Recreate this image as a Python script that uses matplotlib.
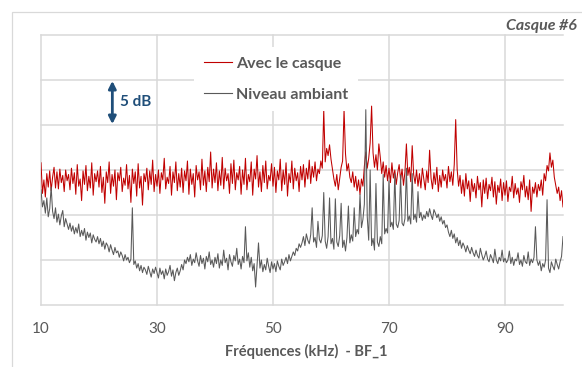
import numpy as np
import matplotlib
matplotlib.use("Agg")
import matplotlib.pyplot as plt
from matplotlib.lines import Line2D
from matplotlib.patches import Rectangle

# ---------------- data ----------------
freq_start = 10.0
freq_step = 0.25

avec_casque = [
    15.8, 12.4, 13.9, 12.0, 14.6, 13.1, 14.9, 12.7, 14.2, 15.3, 13.0, 14.8, 12.9, 15.1, 13.6, 14.4, 12.6, 15.0, 13.8, 14.5,
    12.8, 15.2, 13.5, 14.7, 12.3, 15.6, 13.2, 14.0, 11.6, 14.9, 13.4, 15.5, 12.7, 14.3, 13.0, 15.8, 12.2, 14.6, 13.7, 14.9,
    13.1, 15.4, 12.5, 14.2, 11.3, 14.8, 13.6, 15.9, 12.4, 14.5, 13.2, 15.0, 11.7, 14.7, 13.8, 15.3, 12.6, 14.1, 13.3, 15.6,
    12.9, 14.4, 11.4, 15.1, 13.5, 14.8, 12.1, 15.7, 13.0, 14.3, 11.1, 14.6, 13.7, 15.2, 12.8, 14.9, 13.4, 16.1, 12.6, 14.5,
    13.2, 15.0, 12.4, 14.7, 13.9, 16.3, 12.9, 14.2, 13.5, 15.4, 12.2, 14.8, 13.6, 15.9, 12.7, 14.6, 13.1, 15.2, 12.5, 14.9,
    13.8, 16.0, 12.3, 15.1, 13.4, 14.6, 12.0, 15.5, 13.9, 14.8, 12.8, 16.2, 13.3, 14.9, 12.6, 15.3, 13.7, 17.0, 13.0, 15.1,
    13.6, 15.8, 12.7, 14.9, 13.3, 16.4, 12.9, 15.2, 13.8, 14.6, 12.4, 15.7, 13.5, 16.1, 12.8, 14.7, 13.9, 15.4, 12.3, 15.0,
    13.4, 16.3, 12.8, 14.5, 13.7, 15.9, 12.2, 15.1, 14.0, 16.6, 13.1, 14.8, 12.6, 15.5, 13.6, 16.0, 12.9, 14.4, 13.8, 15.7,
    13.2, 15.3, 12.5, 14.9, 13.9, 16.2, 12.7, 15.0, 13.4, 15.8, 12.1, 14.6, 13.6, 16.0, 12.9, 15.2, 13.8, 14.7, 12.6, 15.4,
    13.9, 15.6, 13.1, 15.2, 14.0, 16.1, 13.5, 15.4, 14.2, 15.9, 13.8, 15.1, 14.6, 16.0, 15.2, 21.7, 15.9, 17.4, 16.6, 17.8,
    16.2, 15.1, 14.0, 13.2, 14.5, 12.8, 14.1, 15.3, 16.0, 21.7, 16.8, 14.9, 15.7, 14.2, 13.6, 14.8, 13.1, 14.3, 12.7, 13.9,
    12.3, 14.0, 13.2, 15.4, 17.0, 15.2, 16.3, 18.0, 22.1, 16.9, 15.3, 16.7, 15.0, 17.9, 16.4, 14.6, 15.9, 14.2, 15.5, 13.8,
    15.2, 13.6, 15.8, 14.1, 15.0, 13.4, 14.7, 15.6, 13.9, 15.1, 13.3, 14.8, 17.9, 14.4, 15.3, 13.7, 17.7, 14.5, 13.5, 15.0,
    13.2, 14.6, 13.0, 15.2, 14.0, 12.8, 14.9, 13.6, 17.2, 14.1, 12.9, 14.7, 13.4, 15.3, 12.6, 14.4, 13.1, 15.0, 13.8, 14.5,
    13.0, 15.4, 13.7, 14.8, 13.3, 15.6, 20.6, 15.1, 13.2, 14.4, 12.4, 13.9, 12.1, 14.6, 12.9, 13.8, 11.5, 14.0, 12.6, 13.5,
    11.9, 14.3, 12.8, 13.6, 10.9, 13.9, 12.4, 14.1, 11.8, 13.4, 12.7, 14.2, 12.0, 13.7, 11.2, 13.3, 12.5, 14.0, 11.6, 13.6,
    12.2, 13.8, 11.5, 13.1, 12.6, 14.3, 11.9, 13.5, 12.3, 13.0, 11.4, 13.7, 12.8, 14.4, 12.0, 13.2, 11.7, 13.9, 10.4, 13.1,
    12.4, 13.6, 12.0, 13.4, 12.7, 13.9, 12.2, 14.6, 13.8, 15.5, 14.9, 16.9, 15.3, 16.1, 14.2, 13.3, 12.4, 13.1, 11.6, 12.7,
    10.9,
]

niveau_ambiant = [
    12.8, 10.9, 11.6, 10.2, 11.9, 9.8, 10.7, 13.1, 10.4, 9.6, 10.8, 9.2, 10.1, 8.9, 9.9, 10.5, 8.7, 9.6, 9.0, 8.4,
    9.1, 8.2, 8.8, 7.9, 8.6, 8.0, 9.0, 7.6, 8.3, 7.7, 8.5, 7.2, 8.1, 7.5, 8.0, 6.9, 7.8, 7.3, 7.0, 7.6,
    6.8, 7.4, 6.5, 7.1, 6.2, 6.9, 6.6, 5.9, 6.7, 6.1, 5.6, 6.4, 5.8, 6.0, 5.3, 5.9, 5.5, 4.9, 5.6, 5.0,
    5.3, 4.7, 5.1, 10.8, 4.5, 4.9, 4.1, 4.6, 3.8, 4.4, 3.6, 4.2, 3.9, 3.4, 4.3, 3.7, 3.1, 4.0, 3.5, 4.2,
    3.6, 3.0, 4.1, 3.4, 3.8, 2.9, 4.0, 3.3, 3.7, 4.4, 3.2, 3.9, 2.7, 3.6, 4.1, 3.3, 3.8, 4.5, 3.9, 5.0,
    4.6, 5.3, 4.8, 5.6, 4.4, 5.1, 4.7, 5.8, 4.9, 4.3, 5.5, 4.6, 5.2, 4.0, 5.4, 4.8, 5.9, 4.5, 5.0, 4.2,
    5.3, 4.6, 5.7, 4.1, 5.0, 4.4, 6.1, 4.7, 5.2, 3.9, 5.6, 4.8, 4.3, 5.5, 4.9, 6.3, 4.5, 5.1, 4.0, 5.4,
    4.7, 8.7, 4.9, 5.8, 4.2, 5.3, 3.8, 4.6, 2.0, 4.4, 6.9, 4.1, 5.0, 3.7, 4.5, 3.9, 5.2, 4.3, 3.6, 4.8,
    4.0, 4.6, 3.7, 4.9, 4.3, 3.9, 5.1, 4.4, 4.8, 5.3, 4.6, 5.6, 4.9, 5.4, 5.9, 5.5, 6.3, 6.0, 6.8, 6.4,
    6.9, 7.6, 6.6, 7.9, 7.2, 6.8, 7.8, 10.8, 7.0, 7.5, 6.4, 9.3, 7.3, 6.9, 7.7, 12.5, 7.1, 6.3, 7.6, 11.9,
    6.8, 7.4, 6.2, 11.8, 7.0, 6.5, 7.7, 11.3, 6.4, 7.2, 6.0, 7.5, 11.0, 6.9, 7.8, 7.1, 10.8, 7.6, 8.4, 7.9,
    12.3, 8.6, 9.5, 11.2, 21.7, 9.8, 7.2, 15.0, 6.6, 7.4, 6.1, 13.5, 7.0, 6.5, 7.6, 6.8, 14.5, 7.9, 8.5, 8.0,
    13.8, 8.7, 9.2, 8.4, 14.6, 9.0, 8.6, 9.4, 14.4, 9.1, 8.8, 9.6, 15.2, 9.3, 9.9, 9.0, 14.6, 9.5, 10.1, 9.2,
    12.6, 9.7, 10.3, 9.4, 10.0, 9.6, 10.4, 9.8, 10.7, 10.0, 9.5, 10.6, 10.2, 9.7, 10.1, 9.3, 9.8, 9.0, 9.4, 8.6,
    8.9, 8.1, 7.6, 8.3, 7.4, 7.9, 6.9, 7.5, 6.6, 7.2, 6.3, 6.9, 6.5, 5.9, 6.6, 6.1, 5.7, 6.4, 5.8, 5.4,
    6.1, 5.5, 5.2, 6.3, 5.6, 5.0, 5.4, 6.0, 5.1, 4.8, 5.6, 5.2, 4.7, 6.2, 5.0, 4.6, 5.3, 4.9, 6.1, 4.8,
    5.2, 4.7, 5.0, 6.0, 4.6, 5.3, 4.4, 5.1, 4.9, 5.8, 4.5, 5.0, 4.3, 5.5, 4.8, 4.6, 5.9, 4.4, 5.1, 4.7,
    5.3, 8.7, 5.0, 4.4, 4.9, 3.8, 4.6, 4.2, 5.0, 11.7, 4.1, 3.6, 4.8, 4.3, 3.9, 5.1, 4.5, 4.0, 4.8, 5.4,
    7.6,
]

x_ticks = [10, 30, 50, 70, 90]
series_labels = ["Avec le casque", "Niveau ambiant"]
title_text = "Casque #6"
xlabel_text = "Fréquences (kHz)  - BF_1"
scale_text = "5 dB"

# ---------------- style ----------------
FONT = ["Lato", "DejaVu Sans"]
plt.rcParams["font.family"] = FONT
RED = "#C00000"
GRAY = "#595959"
GRID = "#D9D9D9"
TXT = "#595959"
BLUE = "#1F4E79"

W, H = 582, 367
fig = plt.figure(figsize=(W / 100, H / 100), dpi=100)
fig.patch.set_facecolor("white")

# outer chart border
fig.patches.append(Rectangle((12 / W, -0.01), 1.0, 1 - 12 / H + 0.01,
                             transform=fig.transFigure, fill=False,
                             edgecolor=GRID, linewidth=0.9))

ax = fig.add_axes([41 / W, 1 - 305 / H, (563 - 41) / W, (305 - 35) / H])

freqs = freq_start + freq_step * np.arange(len(avec_casque))
ax.plot(freqs, avec_casque, color=RED, lw=0.75, zorder=3)
ax.plot(freqs, niveau_ambiant, color=GRAY, lw=0.75, zorder=4)

ax.set_xlim(10, 100)
ax.set_ylim(0, 30)
ax.set_xticks(x_ticks)
ax.set_yticks(np.arange(0, 31, 5))
ax.grid(True, color=GRID, lw=1.1, zorder=0)
for gl in ax.get_xgridlines() + ax.get_ygridlines():
    gl.set_clip_on(False)
for s in ax.spines.values():
    s.set_visible(False)
ax.tick_params(axis="y", left=False, labelleft=False)
ax.tick_params(axis="x", length=0, pad=12, labelsize=11, labelcolor=TXT)

# x label
fig.text(306 / W, 1 - 351 / H, xlabel_text, ha="center", va="center",
         fontsize=10.5, fontweight="bold", color=TXT)

# title (top right)
fig.text(577 / W, 1 - 26 / H, title_text, ha="right", va="center",
         fontsize=11.5, fontstyle="italic", fontweight="bold", color=TXT)

# legend
handles = [Line2D([], [], color=RED, lw=0.8), Line2D([], [], color=GRAY, lw=0.8)]
leg = ax.legend(handles, series_labels, loc="upper left",
                bbox_to_anchor=(186 / W, 1 - 39 / H), bbox_transform=fig.transFigure,
                frameon=True, fancybox=False, facecolor="white", edgecolor="none",
                framealpha=1, handlelength=1.8, handletextpad=0.25,
                labelspacing=1.05, borderpad=0.6,
                prop={"family": FONT, "weight": "bold", "size": 11.5})
for t in leg.get_texts():
    t.set_color(TXT)
leg.set_zorder(5)

# 5 dB scale arrow
ax.annotate("", xy=(22.3, 20.1), xytext=(22.3, 24.9),
            arrowprops=dict(arrowstyle="<|-|>", color=BLUE, lw=2.0,
                            mutation_scale=11, shrinkA=0, shrinkB=0), zorder=6)
ax.text(23.7, 22.6, scale_text, ha="left", va="center", fontsize=11,
        fontweight="bold", color=BLUE, zorder=6)

fig.savefig("out.png", dpi=100, facecolor="white")
